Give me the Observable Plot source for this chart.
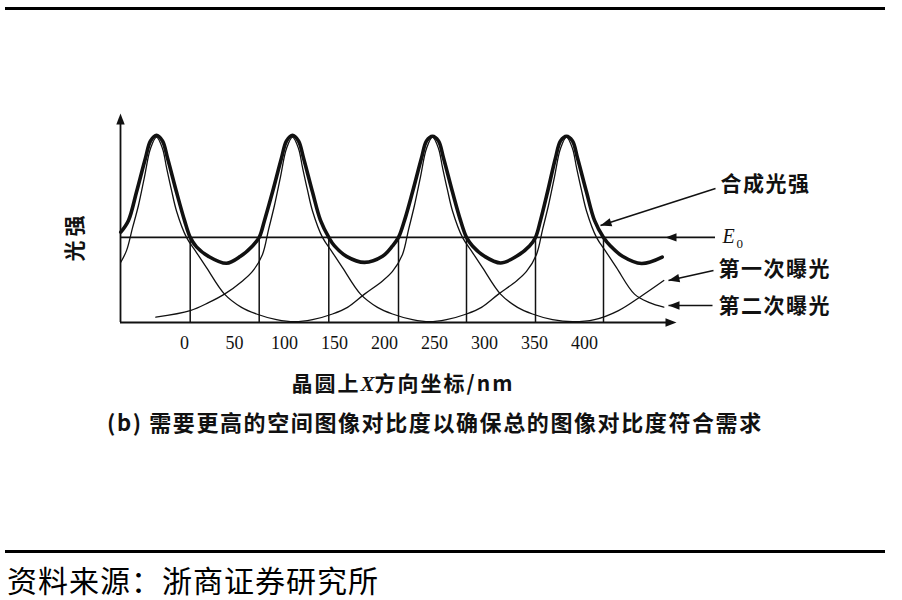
<!DOCTYPE html>
<html>
<head>
<meta charset="utf-8">
<script src="https://cdn.jsdelivr.net/npm/d3@7"></script>
<script src="https://cdn.jsdelivr.net/npm/@observablehq/plot@0.6"></script>
<style>
  html, body { margin: 0; padding: 0; background: #fff; }
  #wrap { position: relative; width: 902px; height: 600px; overflow: hidden; background: #fff; }
  .rule { position: absolute; left: 5px; width: 880px; background: #000; }
  #chart { position: absolute; left: 0; top: 0; }
  .cjk { position: absolute; font-family: "Noto Sans CJK SC", "Noto Sans", sans-serif; line-height: 1.1; white-space: nowrap; color: #111; }
  #xtitle { left: 0; width: 806px; text-align: center; top: 371px; font-size: 21px; font-weight: bold; letter-spacing: 2px; }
  #xtitle i { font-family: "Liberation Serif", serif; font-style: italic; font-weight: bold; letter-spacing: 0; }
  #caption { left: 107px; top: 409px; font-size: 22px; font-weight: bold; letter-spacing: 1.6px; }
  #source { left: 7px; top: 563px; font-size: 30px; font-weight: normal; color: #000; letter-spacing: 1px; }
</style>
</head>
<body>
<div id="wrap">
  <div class="rule" style="top:7px;height:3px;"></div>
  <div id="chart"></div>
  <div id="xtitle" class="cjk">晶圆上<i>X</i>方向坐标/nm</div>
  <div id="caption" class="cjk">(b) 需要更高的空间图像对比度以确保总的图像对比度符合需求</div>
  <div class="rule" style="top:550px;height:3px;"></div>
  <div id="source" class="cjk">资料来源：浙商证券研究所</div>
</div>
<script>
// ---- data (x in nm along the wafer, y = relative light intensity) ----
const xTicks = [0, 50, 100, 150, 200, 250, 300, 350, 400];
const xTickLabels = ["0", "50", "100", "150", "200", "250", "300", "350", "400"];
const E0 = 45;                                   // exposure threshold
const edgePositions = [5.7, 74.7, 144.3, 214, 282, 351, 419]; // where total intensity meets E0

// 合成光强 (combined intensity)
const totalIntensity = [
  [-63.7, 47.8], [-56, 54], [-48, 69], [-39, 87], [-34, 96], [-28, 99], [-22, 96], [-17, 87],
  [-8, 69], [0, 54], [5.7, 45], [12, 40], [24, 35], [42, 31.3], [56, 35], [68, 40.5],
  [74.7, 45], [80, 54], [88, 69], [97, 87], [102, 96], [108, 99], [114, 96], [119, 87],
  [128, 69], [136, 54], [144.3, 45], [150, 40.5], [162, 35], [180, 31.8], [198, 35], [208, 40.5],
  [214, 45], [220, 54], [228, 69], [237, 87], [242, 96], [248, 98.5], [254, 96], [259, 87],
  [268, 69], [276, 54], [282, 45], [288, 40.5], [300, 35], [316, 31.5], [332, 35], [345, 40.5],
  [351, 45], [356, 54], [363, 69], [371, 87], [376, 96], [382, 98.5], [388, 96], [393, 87],
  [402, 69], [410, 54], [419, 45], [426, 40.5], [438, 35], [457, 31.2], [477.7, 34.6]
];

// 第一次曝光 (first exposure)
const firstExposure = [
  [-63.7, 31.9], [-58, 38], [-52, 50], [-46, 62], [-40, 77], [-34, 92], [-28, 98], [-22, 92],
  [-18, 82], [-13, 70], [-8, 59], [2, 45], [12, 37], [22, 29], [40, 15], [57, 8], [72, 4.5],
  [92, 1.5], [110, 0.4], [128, 1.5], [148, 4.5], [163, 8], [180, 15], [198, 22], [208, 27],
  [218, 36], [224, 49], [230, 62], [236, 77], [242, 92], [248, 98], [254, 92], [258, 82],
  [263, 70], [268, 59], [278, 45], [288, 37], [298, 29], [316, 15], [333, 8], [348, 4.5],
  [368, 1.5], [388, 0.4], [410, 1.5], [434, 6.3], [457.7, 14.3], [479.3, 22.2]
];

// 第二次曝光 (second exposure)
const secondExposure = [
  [-28.7, 2.8], [5.7, 6.3], [24, 10.5], [40, 15], [58, 22], [68, 27], [78, 36], [84, 49],
  [90, 62], [96, 77], [102, 92], [108, 98], [114, 92], [118, 82], [123, 70], [128, 59],
  [138, 45], [148, 37], [158, 29], [176, 15], [193, 8], [208, 4.5], [228, 1.5], [245, 0.4],
  [262, 1.5], [282, 4.5], [297, 8], [314, 15], [332, 22], [342, 27], [352, 36], [358, 49],
  [364, 62], [370, 77], [376, 92], [382, 98], [388, 92], [392, 82], [397, 70], [402, 59],
  [412, 45], [422, 37], [432, 29], [450, 15], [465, 10.5], [479.3, 8.1]
];

// annotation leader lines: [x1, y1, x2 (tip), y2 (tip), head rotation]
const leaderLines = [
  [531, 70.9, 416, 51.3, -107.8],   // 合成光强
  [529, 27.5, 484, 22.2, -102.5],   // 第一次曝光
  [528, 9.0, 484, 9.0, -90]         // 第二次曝光
];
const labelTexts = ["合成光强", "第一次曝光", "第二次曝光"];
const labelAnchors = [[536, 73], [534, 28], [534, 8.5]];

// ---- build ----
const ink = "#111";
const pts = arr => arr.map(([x, y]) => ({x, y}));
const head = {draw(ctx) { ctx.moveTo(0, 0); ctx.lineTo(-4.2, 11); ctx.lineTo(4.2, 11); ctx.closePath(); }};

const heads = [
  {x: 492, y: 0, r: 90},          // x axis
  {x: -64, y: 110.5, r: 0},       // y axis
  {x: 481, y: E0, r: -90},        // E0 pointer
  ...leaderLines.map(d => ({x: d[2], y: d[3], r: d[4]}))
];
const links = leaderLines.map(d => ({x1: d[0], y1: d[1], x2: d[2], y2: d[3]}));
const labels = labelTexts.map((t, i) => ({t, x: labelAnchors[i][0], y: labelAnchors[i][1]}));
const cjkFont = "'Noto Sans CJK SC', sans-serif";

const chart = Plot.plot({
  width: 902,
  height: 360,
  marginLeft: 119,
  marginRight: 227,
  marginTop: 114,
  marginBottom: 38,
  x: {domain: [-65, 491], axis: null},
  y: {domain: [0, 110], axis: null},
  style: {fontFamily: "'Liberation Serif', serif", fontSize: "17px", color: ink, background: "transparent", overflow: "visible"},
  marks: [
    Plot.ruleX(edgePositions, {y1: 0, y2: E0, stroke: ink, strokeWidth: 1.5}),
    Plot.ruleY([E0], {x1: -64, x2: 531, stroke: ink, strokeWidth: 1.8}),
    Plot.ruleY([0], {x1: -64, x2: 486, stroke: ink, strokeWidth: 1.8}),
    Plot.ruleX([-64], {y1: 0, y2: 106, stroke: ink, strokeWidth: 1.8}),
    Plot.line(pts(firstExposure), {x: "x", y: "y", curve: "catmull-rom", stroke: ink, strokeWidth: 1.3}),
    Plot.line(pts(secondExposure), {x: "x", y: "y", curve: "catmull-rom", stroke: ink, strokeWidth: 1.3}),
    Plot.line(pts(totalIntensity), {x: "x", y: "y", curve: "catmull-rom", stroke: ink, strokeWidth: 3.6}),
    Plot.link(links, {x1: "x1", y1: "y1", x2: "x2", y2: "y2", stroke: ink, strokeWidth: 1.5}),
    Plot.dot(heads, {x: "x", y: "y", rotate: "r", symbol: head, r: 4, fill: ink, stroke: "none"}),
    Plot.text(xTicks, {x: d => d, y: () => 0, dy: 21, text: (d, i) => xTickLabels[i], fontSize: 18, fill: ink}),
    Plot.text(labels, {x: "x", y: "y", text: "t", textAnchor: "start", fontSize: 21, fontWeight: "bold", fontFamily: cjkFont, fill: ink}),
    Plot.text(["E"], {x: () => 538, y: () => 45.5, text: d => d, textAnchor: "start", fontSize: 20, fontStyle: "italic", fontFamily: "'Liberation Serif', serif", fill: ink}),
    Plot.text(["0"], {x: () => 552, y: () => 41.5, text: d => d, textAnchor: "start", fontSize: 13, fontFamily: "'Liberation Serif', serif", fill: ink}),
    Plot.text(["光强"], {x: () => -64, y: () => 45.5, dx: -45, text: d => d, rotate: -90, fontSize: 21, fontWeight: "bold", fontFamily: cjkFont, fill: ink})
  ]
});

chart.querySelectorAll("text").forEach(t => {
  if (/[\u4e00-\u9fff]/.test(t.textContent)) t.style.letterSpacing = t.textContent === "光强" ? "4px" : "1.5px";
});
document.getElementById("chart").appendChild(chart);
</script>
</body>
</html>
